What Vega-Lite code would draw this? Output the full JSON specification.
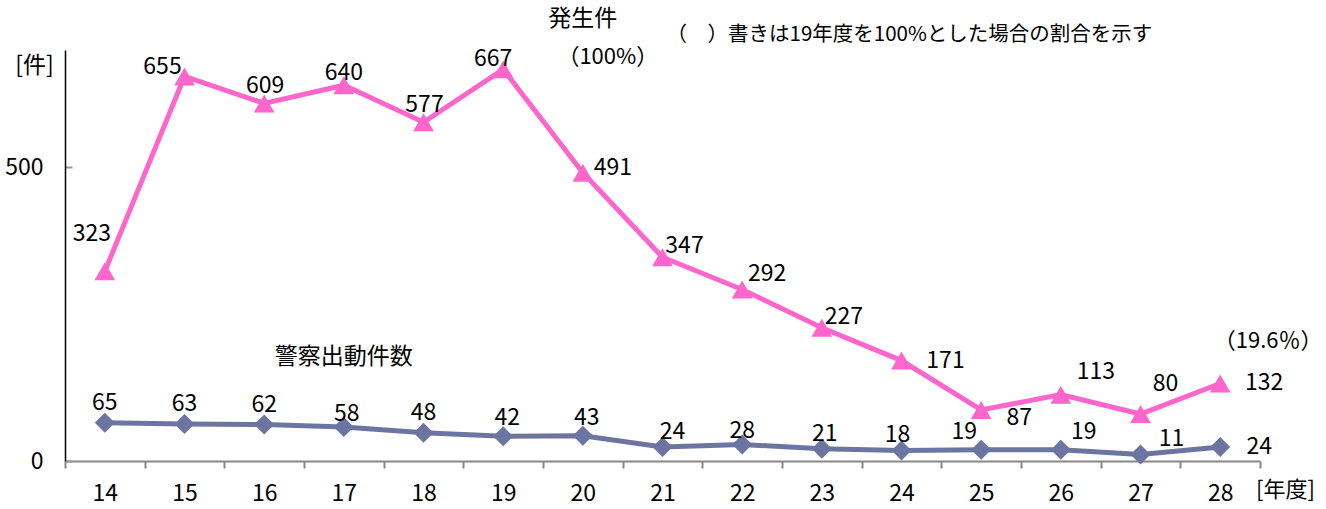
{
  "$schema": "https://vega.github.io/schema/vega-lite/v6.json",
  "width": 1195,
  "height": 411,
  "autosize": {"type": "none"},
  "padding": {"left": 65, "top": 50, "right": 66, "bottom": 48},
  "background": "white",
  "config": {
    "view": {"stroke": null},
    "font": "Noto Sans CJK JP",
    "text": {"font": "Noto Sans CJK JP", "fontSize": 23, "fontWeight": "normal", "baseline": "middle", "align": "center", "color": "black"}
  },
  "data": {
    "values": [
      {"k": "p14", "year": "14", "series": "発生件数", "value": 323},
      {"k": "p15", "year": "15", "series": "発生件数", "value": 655},
      {"k": "p16", "year": "16", "series": "発生件数", "value": 609},
      {"k": "p17", "year": "17", "series": "発生件数", "value": 640},
      {"k": "p18", "year": "18", "series": "発生件数", "value": 577},
      {"k": "p19", "year": "19", "series": "発生件数", "value": 667},
      {"k": "p20", "year": "20", "series": "発生件数", "value": 491},
      {"k": "p21", "year": "21", "series": "発生件数", "value": 347},
      {"k": "p22", "year": "22", "series": "発生件数", "value": 292},
      {"k": "p23", "year": "23", "series": "発生件数", "value": 227},
      {"k": "p24", "year": "24", "series": "発生件数", "value": 171},
      {"k": "p25", "year": "25", "series": "発生件数", "value": 87},
      {"k": "p26", "year": "26", "series": "発生件数", "value": 113},
      {"k": "p27", "year": "27", "series": "発生件数", "value": 80},
      {"k": "p28", "year": "28", "series": "発生件数", "value": 132},
      {"k": "b14", "year": "14", "series": "警察出動件数", "value": 65},
      {"k": "b15", "year": "15", "series": "警察出動件数", "value": 63},
      {"k": "b16", "year": "16", "series": "警察出動件数", "value": 62},
      {"k": "b17", "year": "17", "series": "警察出動件数", "value": 58},
      {"k": "b18", "year": "18", "series": "警察出動件数", "value": 48},
      {"k": "b19", "year": "19", "series": "警察出動件数", "value": 42},
      {"k": "b20", "year": "20", "series": "警察出動件数", "value": 43},
      {"k": "b21", "year": "21", "series": "警察出動件数", "value": 24},
      {"k": "b22", "year": "22", "series": "警察出動件数", "value": 28},
      {"k": "b23", "year": "23", "series": "警察出動件数", "value": 21},
      {"k": "b24", "year": "24", "series": "警察出動件数", "value": 18},
      {"k": "b25", "year": "25", "series": "警察出動件数", "value": 19},
      {"k": "b26", "year": "26", "series": "警察出動件数", "value": 19},
      {"k": "b27", "year": "27", "series": "警察出動件数", "value": 11},
      {"k": "b28", "year": "28", "series": "警察出動件数", "value": 24}
    ]
  },
  "encoding": {
    "x": {
      "field": "year", "type": "ordinal",
      "scale": {"type": "band", "paddingInner": 0, "paddingOuter": 0},
      "axis": {
        "title": "[年度]", "titleX": 1220, "titleY": 28, "titleAlign": "center", "titleBaseline": "middle",
        "titleFont": "Noto Sans CJK JP", "titleFontSize": 22, "titleFontWeight": "normal", "titleColor": "black",
        "labelAngle": 0, "labelFont": "Noto Sans CJK JP", "labelFontSize": 23, "labelColor": "black",
        "labelPadding": 14, "tickBand": "extent", "tickSize": 7, "tickColor": "#888888", "tickWidth": 2,
        "domainColor": "#888888", "domainWidth": 2, "grid": false
      }
    },
    "y": {
      "field": "value", "type": "quantitative",
      "scale": {"domain": [0, 700], "nice": false},
      "axis": {
        "values": [0, 500], "title": "[件]", "titleAngle": 0, "titleX": -31, "titleY": 15,
        "titleAlign": "center", "titleBaseline": "middle", "titleFont": "Noto Sans CJK JP",
        "titleFontSize": 23, "titleFontWeight": "normal", "titleColor": "black",
        "labelFont": "Noto Sans CJK JP", "labelFontSize": 23, "labelColor": "black",
        "tickSize": -7, "tickColor": "#999999", "tickWidth": 2, "labelPadding": 29,
        "domainColor": "black", "domainWidth": 1.5, "grid": false
      }
    }
  },
  "layer": [
    {"transform": [{"filter": "datum.series == '警察出動件数'"}], "mark": {"type": "line", "color": "#6C75A1", "strokeWidth": 5}},
    {"transform": [{"filter": "datum.series == '警察出動件数'"}], "mark": {"type": "point", "shape": "diamond", "filled": true, "size": 400, "opacity": 1, "color": "#6C75A1"}},
    {"transform": [{"filter": "datum.series == '発生件数'"}], "mark": {"type": "line", "color": "#FF66CC", "strokeWidth": 5}},
    {"transform": [{"filter": "datum.series == '発生件数'"}], "mark": {"type": "point", "shape": "triangle-up", "filled": true, "size": 430, "opacity": 1, "color": "#FF66CC"}},
    {
      "encoding": {"text": {"field": "value", "type": "quantitative"}},
      "layer": [
        {"transform": [{"filter": "datum.k == 'p14'"}], "mark": {"type": "text", "dx": -13, "dy": -37}},
        {"transform": [{"filter": "datum.k == 'p15'"}], "mark": {"type": "text", "dx": -22, "dy": -9}},
        {"transform": [{"filter": "datum.k == 'p16' || datum.k == 'p18'"}], "mark": {"type": "text", "dx": 1, "dy": -17}},
        {"transform": [{"filter": "datum.k == 'p17'"}], "mark": {"type": "text", "dx": 0, "dy": -12}},
        {"transform": [{"filter": "datum.k == 'p19'"}], "mark": {"type": "text", "dx": -10, "dy": -10}},
        {"transform": [{"filter": "datum.k == 'p20'"}], "mark": {"type": "text", "dx": 30, "dy": -5}},
        {"transform": [{"filter": "datum.k == 'p21' || datum.k == 'p23'"}], "mark": {"type": "text", "dx": 22, "dy": -11}},
        {"transform": [{"filter": "datum.k == 'p22'"}], "mark": {"type": "text", "dx": 25, "dy": -16}},
        {"transform": [{"filter": "datum.k == 'p24' || datum.k == 'p28'"}], "mark": {"type": "text", "dx": 44, "dy": 0}},
        {"transform": [{"filter": "datum.k == 'p25'"}], "mark": {"type": "text", "dx": 38, "dy": 8}},
        {"transform": [{"filter": "datum.k == 'p26'"}], "mark": {"type": "text", "dx": 35, "dy": -23}},
        {"transform": [{"filter": "datum.k == 'p27'"}], "mark": {"type": "text", "dx": 25, "dy": -30}},
        {"transform": [{"filter": "indexof(['b14','b15','b16','b18'], datum.k) >= 0"}], "mark": {"type": "text", "dx": 0, "dy": -20}},
        {"transform": [{"filter": "datum.k == 'b17'"}], "mark": {"type": "text", "dx": 3, "dy": -13}},
        {"transform": [{"filter": "datum.k == 'b19' || datum.k == 'b20'"}], "mark": {"type": "text", "dx": 4, "dy": -18}},
        {"transform": [{"filter": "datum.k == 'b21'"}], "mark": {"type": "text", "dx": 10, "dy": -15}},
        {"transform": [{"filter": "datum.k == 'b22'"}], "mark": {"type": "text", "dx": 0, "dy": -14}},
        {"transform": [{"filter": "datum.k == 'b23'"}], "mark": {"type": "text", "dx": 3, "dy": -15}},
        {"transform": [{"filter": "datum.k == 'b24'"}], "mark": {"type": "text", "dx": -4, "dy": -15}},
        {"transform": [{"filter": "datum.k == 'b25'"}], "mark": {"type": "text", "dx": -17, "dy": -18}},
        {"transform": [{"filter": "datum.k == 'b26'"}], "mark": {"type": "text", "dx": 23, "dy": -18}},
        {"transform": [{"filter": "datum.k == 'b27'"}], "mark": {"type": "text", "dx": 31, "dy": -16}},
        {"transform": [{"filter": "datum.k == 'b28'"}], "mark": {"type": "text", "dx": 39, "dy": 0}}
      ]
    },
    {
      "transform": [{"filter": "datum.k == 'p20'"}],
      "mark": {"type": "text", "fontSize": 23, "fontWeight": "normal"},
      "encoding": {"x": {"datum": "20", "type": "ordinal"}, "y": {"datum": 753, "type": "quantitative"}, "text": {"value": "発生件"}}
    },
    {
      "transform": [{"filter": "datum.k == 'p20'"}],
      "mark": {"type": "text", "fontSize": 22, "fontWeight": "normal", "dx": 25},
      "encoding": {"x": {"datum": "20", "type": "ordinal"}, "y": {"datum": 688, "type": "quantitative"}, "text": {"value": "（100%）"}}
    },
    {
      "transform": [{"filter": "datum.k == 'p21'"}],
      "mark": {"type": "text", "fontSize": 20.5, "fontWeight": "normal", "align": "left", "dx": 4},
      "encoding": {"x": {"datum": "21", "type": "ordinal"}, "y": {"datum": 726, "type": "quantitative"}, "text": {"value": "（　）書きは19年度を100%とした場合の割合を示す"}}
    },
    {
      "transform": [{"filter": "datum.k == 'b17'"}],
      "mark": {"type": "text", "fontSize": 23, "fontWeight": "normal"},
      "encoding": {"x": {"datum": "17", "type": "ordinal"}, "y": {"datum": 177, "type": "quantitative"}, "text": {"value": "警察出動件数"}}
    },
    {
      "transform": [{"filter": "datum.k == 'p28'"}],
      "mark": {"type": "text", "fontSize": 22, "fontWeight": "normal", "dx": 48},
      "encoding": {"x": {"datum": "28", "type": "ordinal"}, "y": {"datum": 204, "type": "quantitative"}, "text": {"value": "（19.6％）"}}
    }
  ]
}
